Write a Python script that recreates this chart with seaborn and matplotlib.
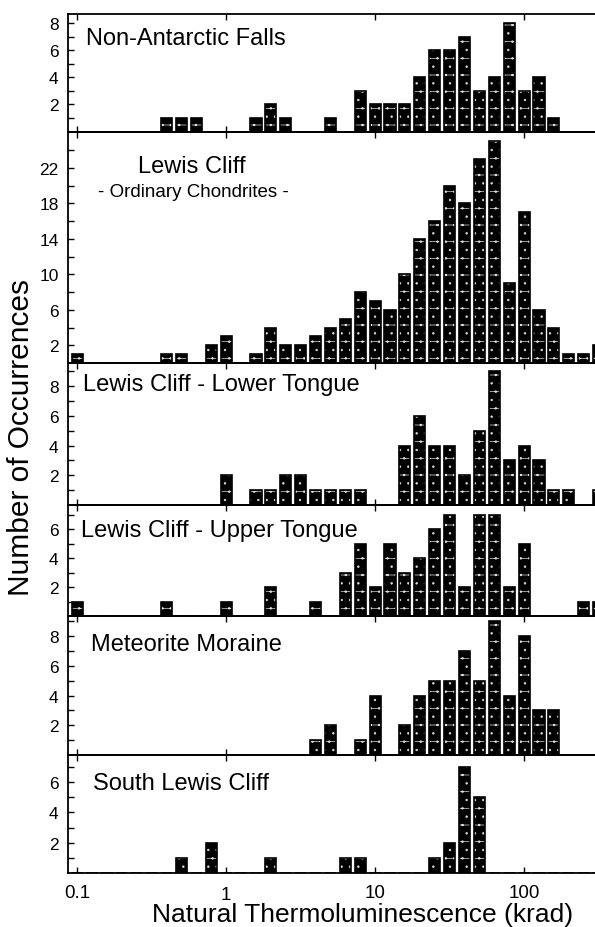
import numpy as np
import pandas as pd
import matplotlib
matplotlib.use("Agg")
import matplotlib.pyplot as plt
import seaborn as sns
from matplotlib.ticker import FixedLocator, FixedFormatter, NullLocator, NullFormatter

# ---------------- data ----------------
# histogram bin centres, as log10(krad)
log_bin_centres = [-1.0, -0.9, -0.8, -0.7, -0.6, -0.5, -0.4, -0.3, -0.2, -0.1,
                   0.0, 0.1, 0.2, 0.3, 0.4, 0.5, 0.6, 0.7, 0.8, 0.9,
                   1.0, 1.1, 1.2, 1.3, 1.4, 1.5, 1.6, 1.7, 1.8, 1.9,
                   2.0, 2.1, 2.2, 2.3, 2.4, 2.5]

panel_titles = ["Non-Antarctic Falls", "Lewis Cliff", "Lewis Cliff - Lower Tongue",
                "Lewis Cliff - Upper Tongue", "Meteorite Moraine", "South Lewis Cliff"]
subtitle_lewis = "- Ordinary Chondrites -"

counts_non_antarctic = [0, 0, 0, 0, 0, 0, 1, 1, 1, 0, 0, 0, 1, 2, 1, 0, 0, 1, 0, 3,
                        2, 2, 2, 4, 6, 6, 7, 3, 4, 8, 3, 4, 1, 0, 0, 0]
counts_lewis_oc = [1, 0, 0, 0, 0, 0, 1, 1, 0, 2, 3, 0, 1, 4, 2, 2, 3, 4, 5, 8,
                   7, 6, 10, 14, 16, 20, 18, 23, 25, 9, 17, 6, 4, 1, 1, 2]
counts_lower_tongue = [0, 0, 0, 0, 0, 0, 0, 0, 0, 0, 2, 0, 1, 1, 2, 2, 1, 1, 1, 1,
                       0, 0, 4, 6, 4, 4, 2, 5, 9, 3, 4, 3, 1, 1, 0, 1]
counts_upper_tongue = [1, 0, 0, 0, 0, 0, 1, 0, 0, 0, 1, 0, 0, 2, 0, 0, 1, 0, 3, 5,
                       2, 5, 3, 4, 6, 7, 2, 7, 7, 2, 5, 0, 0, 0, 1, 1]
counts_moraine = [0, 0, 0, 0, 0, 0, 0, 0, 0, 0, 0, 0, 0, 0, 0, 0, 1, 2, 0, 1,
                  4, 0, 2, 4, 5, 5, 7, 5, 9, 4, 8, 3, 3, 0, 0, 0]
counts_south_lewis = [0, 0, 0, 0, 0, 0, 0, 1, 0, 2, 0, 0, 0, 1, 0, 0, 0, 0, 1, 1,
                      0, 0, 0, 0, 1, 2, 7, 5, 0, 0, 0, 0, 0, 0, 0, 0]

panel_counts = [counts_non_antarctic, counts_lewis_oc, counts_lower_tongue,
                counts_upper_tongue, counts_moraine, counts_south_lewis]

y_major_ticks = [[2, 4, 6, 8], [2, 6, 10, 14, 18, 22], [2, 4, 6, 8],
                 [2, 4, 6], [2, 4, 6, 8], [2, 4, 6]]
y_minor_ticks = [[1, 3, 5, 7], [4, 8, 12, 16, 20, 24], [1, 3, 5, 7, 9],
                 [1, 3, 5, 7], [1, 3, 5, 7, 9], [1, 3, 5, 7]]

x_tick_values = [0.1, 1, 10, 100]
x_tick_labels = ["0.1", "1", "10", "100"]

x_label = "Natural Thermoluminescence (krad)"
y_label = "Number of Occurrences"

# ---------------- style / layout ----------------
sns.set_theme(style="ticks")
plt.rcParams["font.family"] = ["Liberation Sans", "DejaVu Sans"]
plt.rcParams["hatch.linewidth"] = 0.5

W, H = 595, 928
fig = plt.figure(figsize=(W / 100, H / 100), dpi=100)
fig.patch.set_facecolor("white")

left_px = 68.3
panel_px = [(15, 132.5), (132.5, 364), (364, 506), (506, 617), (617, 756), (756, 874)]
y_max = [8.7, 26.1, 9.57, 7.69, 9.37, 7.8]
x_lim = (10 ** -1.058, 10 ** 2.477)

title_pos = [(86, 45), (138, 173), (83, 391), (81, 537), (91, 651), (93, 790)]

axes = []
for i, (top, bot) in enumerate(panel_px):
    ax = fig.add_axes([left_px / W, 1 - bot / H, 1 - left_px / W, (bot - top) / H])
    axes.append(ax)
    df = pd.DataFrame({"dose": np.power(10.0, log_bin_centres), "n": panel_counts[i]})
    common = dict(data=df, x="dose", weights="n", log_scale=True, binwidth=0.1,
                  binrange=(-1.05, 2.55), shrink=0.75, ax=ax)
    # textured black fill
    sns.histplot(**common, color="black", edgecolor="#dddddd", hatch="-..",
                 linewidth=0, alpha=1)
    # crisp black outline
    sns.histplot(**common, fill=False, color="black", linewidth=1.2)

    ax.set_xlim(*x_lim)
    ax.set_ylim(0, y_max[i])
    ax.set_xlabel("")
    ax.set_ylabel("")

    ax.xaxis.set_major_locator(FixedLocator(x_tick_values))
    ax.xaxis.set_minor_locator(NullLocator())
    ax.yaxis.set_major_locator(FixedLocator(y_major_ticks[i]))
    ax.yaxis.set_minor_locator(FixedLocator(y_minor_ticks[i]))
    ax.yaxis.set_minor_formatter(NullFormatter())

    ax.tick_params(axis="both", which="both", direction="in", width=1.0,
                   color="black", left=True, right=False, top=True, bottom=True)
    ax.tick_params(axis="y", which="both", length=4.5, pad=7, labelsize=12.5,
                   labelcolor="black")
    ax.tick_params(axis="x", which="major", length=4, pad=8, labelsize=13.5,
                   labelcolor="black")
    for side in ["left", "top", "bottom"]:
        ax.spines[side].set_color("black")
        ax.spines[side].set_linewidth(1.3)
    ax.spines["right"].set_visible(False)
    ax.set_facecolor("none")

    if i < len(panel_px) - 1:
        ax.tick_params(axis="x", labelbottom=False)
    else:
        ax.xaxis.set_major_formatter(FixedFormatter(x_tick_labels))

    tx, ty = title_pos[i]
    fig.text(tx / W, 1 - ty / H, panel_titles[i], fontsize=17, color="black",
             ha="left", va="baseline")

# subtitle of the Lewis Cliff panel
fig.text(97.5 / W, 1 - 197 / H, subtitle_lewis, fontsize=13.5, color="black",
         ha="left", va="baseline")

# the "1" tick label sits a little lower in the reference
bottom_ax = axes[-1]
bottom_ax.xaxis.get_major_ticks()[1].set_pad(9.5)

fig.text(363 / W, 1 - 922 / H, x_label, fontsize=19, ha="center", va="baseline",
         color="black")
fig.text(21 / W, 1 - 438 / H, y_label, fontsize=21.5, rotation=90, ha="center",
         va="center", color="black")

fig.savefig("out.png", dpi=100, facecolor="white")
